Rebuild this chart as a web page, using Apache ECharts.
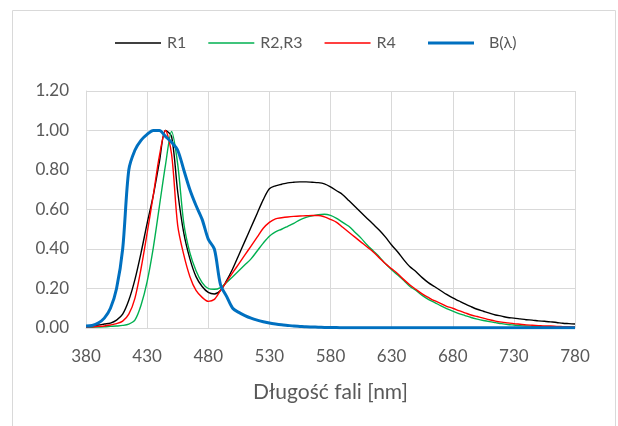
<!DOCTYPE html>
<html lang="pl">
<head>
    <meta charset="UTF-8">
    <title>Widma</title>
    <style>
        html, body { margin: 0; padding: 0; background: #fff; }
    </style>
</head>
<body>
<div class="main" style="width: 618px;height: 426px;"></div>
<script src="https://cdn.jsdelivr.net/npm/echarts@6/dist/echarts.min.js"></script>
<script>
    // długości fali co 5 nm
    var wavelengths = [380, 385, 390, 395, 400, 405, 410, 415, 420, 425,
        430, 435, 440, 445, 450, 455, 460, 465, 470, 475,
        480, 485, 490, 495, 500, 505, 510, 515, 520, 525,
        530, 535, 540, 545, 550, 555, 560, 565, 570, 575,
        580, 585, 590, 595, 600, 605, 610, 615, 620, 625,
        630, 635, 640, 645, 650, 655, 660, 665, 670, 675,
        680, 685, 690, 695, 700, 705, 710, 715, 720, 725,
        730, 735, 740, 745, 750, 755, 760, 765, 770, 775, 780];

    var r1 = [0.010, 0.012, 0.015, 0.020, 0.025, 0.040, 0.070, 0.140, 0.245, 0.380,
        0.530, 0.670, 0.840, 1.000, 0.970, 0.690, 0.480, 0.350, 0.260, 0.210,
        0.180, 0.172, 0.190, 0.240, 0.300, 0.370, 0.440, 0.510, 0.580, 0.650,
        0.705, 0.720, 0.728, 0.735, 0.738, 0.740, 0.740, 0.738, 0.736, 0.730,
        0.715, 0.695, 0.675, 0.645, 0.615, 0.585, 0.555, 0.525, 0.495, 0.460,
        0.420, 0.385, 0.345, 0.310, 0.285, 0.255, 0.230, 0.210, 0.190, 0.170,
        0.152, 0.137, 0.122, 0.108, 0.095, 0.085, 0.075, 0.066, 0.060, 0.053,
        0.050, 0.046, 0.042, 0.040, 0.036, 0.034, 0.031, 0.028, 0.024, 0.022, 0.020];

    var r23 = [0.003, 0.004, 0.005, 0.006, 0.008, 0.010, 0.013, 0.020, 0.040, 0.115,
        0.235, 0.405, 0.615, 0.825, 0.995, 0.830, 0.530, 0.380, 0.290, 0.230,
        0.200, 0.196, 0.205, 0.230, 0.260, 0.290, 0.320, 0.350, 0.390, 0.430,
        0.465, 0.487, 0.500, 0.515, 0.530, 0.548, 0.560, 0.568, 0.574, 0.576,
        0.570, 0.555, 0.535, 0.515, 0.485, 0.455, 0.420, 0.390, 0.360, 0.325,
        0.295, 0.268, 0.240, 0.210, 0.190, 0.165, 0.145, 0.130, 0.113, 0.098,
        0.085, 0.073, 0.063, 0.053, 0.045, 0.038, 0.032, 0.027, 0.022, 0.018,
        0.015, 0.012, 0.010, 0.009, 0.008, 0.007, 0.006, 0.005, 0.005, 0.004, 0.004];

    var r4 = [0.005, 0.006, 0.008, 0.010, 0.015, 0.022, 0.035, 0.070, 0.150, 0.300,
        0.480, 0.670, 0.870, 1.000, 0.880, 0.520, 0.370, 0.260, 0.190, 0.155,
        0.135, 0.145, 0.190, 0.235, 0.280, 0.325, 0.370, 0.415, 0.460, 0.505,
        0.535, 0.553, 0.558, 0.562, 0.565, 0.567, 0.568, 0.570, 0.570, 0.563,
        0.550, 0.535, 0.510, 0.485, 0.460, 0.435, 0.410, 0.385, 0.355, 0.325,
        0.300, 0.275, 0.245, 0.218, 0.195, 0.173, 0.155, 0.138, 0.125, 0.110,
        0.100, 0.088, 0.077, 0.066, 0.058, 0.050, 0.042, 0.035, 0.030, 0.026,
        0.022, 0.019, 0.016, 0.014, 0.012, 0.010, 0.010, 0.008, 0.007, 0.006, 0.005];

    // funkcja zagrożenia światłem niebieskim B(λ)
    var blue = [0.010, 0.013, 0.025, 0.050, 0.100, 0.200, 0.400, 0.800, 0.900, 0.950,
        0.980, 1.000, 1.000, 0.970, 0.940, 0.900, 0.800, 0.700, 0.620, 0.550,
        0.450, 0.400, 0.220, 0.160, 0.100, 0.079, 0.063, 0.050, 0.040, 0.032,
        0.025, 0.020, 0.016, 0.013, 0.010, 0.008, 0.006, 0.005, 0.004, 0.003,
        0.002, 0.002, 0.001, 0.001, 0.001, 0.001, 0.001, 0.001, 0.001, 0.001,
        0.001, 0.001, 0.001, 0.001, 0.001, 0.001, 0.001, 0.001, 0.001, 0.001,
        0.001, 0.001, 0.001, 0.001, 0.001, 0.001, 0.001, 0.001, 0.001, 0.001,
        0.001, 0.001, 0.001, 0.001, 0.001, 0.001, 0.001, 0.001, 0.001, 0.001, 0.001];

    var seriesNames = ['R1', 'R2,R3', 'R4', 'B(λ)'];

    var font = 'Lato, "Open Sans", sans-serif';
    var textColor = '#595959';
    var gridColor = '#D9D9D9';

    var main = document.querySelector(".main");
    var mainEcharts = echarts.init(main);

    function line(name, data, color, width) {
        return {
            name: name,
            type: 'line',
            symbol: 'none',
            smooth: 0.3,
            data: data,
            lineStyle: {color: color, width: width},
            itemStyle: {color: color},
            emphasis: {disabled: true}
        };
    }

    var option = {
        animation: false,
        textStyle: {fontFamily: font},
        graphic: [{
            type: 'rect',
            shape: {x: 12.5, y: 10.5, width: 603, height: 430},
            style: {fill: 'none', stroke: gridColor, lineWidth: 1},
            silent: true
        }],
        legend: [{
            top: 35,
            left: 115,
            padding: 0,
            itemWidth: 46,
            itemHeight: 1.5,
            itemGap: 22,
            icon: 'rect',
            data: seriesNames.slice(0, 3),
            textStyle: {color: textColor, fontSize: 16, fontFamily: font, padding: [0, 0, 0, 1]}
        }, {
            top: 35,
            left: 428,
            padding: 0,
            itemWidth: 46,
            itemHeight: 3,
            icon: 'rect',
            data: seriesNames.slice(3),
            textStyle: {color: textColor, fontSize: 16, fontFamily: font, padding: [0, 0, 0, 10]}
        }],
        grid: {
            left: 86,
            right: 43,
            top: 91,
            bottom: 98,
            containLabel: false
        },
        xAxis: {
            type: 'category',
            boundaryGap: false,
            data: wavelengths,
            name: 'Długość fali [nm]',
            nameLocation: 'middle',
            nameGap: 54,
            nameTextStyle: {color: textColor, fontSize: 21, fontFamily: font},
            axisLine: {show: true, lineStyle: {color: gridColor, width: 1}},
            axisTick: {show: false},
            axisLabel: {interval: 9, color: textColor, fontSize: 17, fontFamily: font, margin: 20},
            splitLine: {show: true, interval: 9, lineStyle: {color: gridColor, width: 1}}
        },
        yAxis: {
            type: 'value',
            min: 0,
            max: 1.2,
            interval: 0.2,
            axisLine: {show: true, lineStyle: {color: gridColor, width: 1}},
            axisTick: {show: false},
            axisLabel: {
                color: textColor, fontSize: 17, fontFamily: font, margin: 17,
                formatter: function (v) { return v.toFixed(2); }
            },
            splitLine: {show: true, lineStyle: {color: gridColor, width: 1}}
        },
        series: [
            line(seriesNames[0], r1, '#000000', 1.4),
            line(seriesNames[1], r23, '#00B050', 1.4),
            line(seriesNames[2], r4, '#FF0000', 1.4),
            line(seriesNames[3], blue, '#0070C0', 3)
        ]
    };
    mainEcharts.setOption(option);
</script>
</body>
</html>
